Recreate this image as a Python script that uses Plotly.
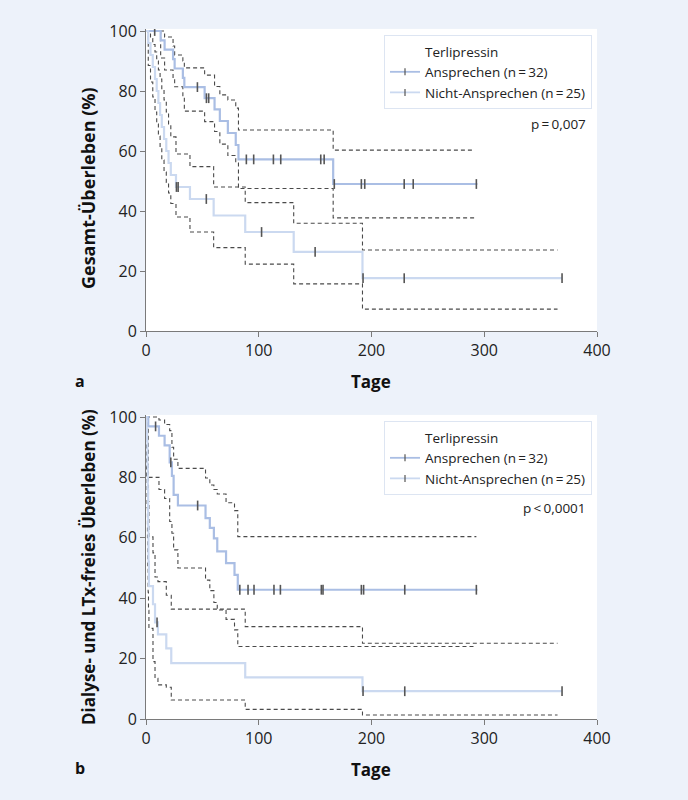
import plotly.graph_objects as go

# Panel a: Gesamt-Überleben
A_ANS_T = [0, 13, 16.5, 24, 25.4, 32.7, 34, 52, 60.8, 65.5, 72.6, 79.6, 82, 166]
A_ANS_S = [100, 96.9, 93.8, 90.6, 87.5, 84.4, 81.3, 77.6, 73.9, 70.0, 66.0, 62.0, 57.2, 49.0]
A_ANS_HI = [100, 100, 98, 95, 92, 90, 87.7, 85.3, 81.5, 78.7, 77, 74.3, 67, 60.3]
A_ANS_LO = [100, 91, 87, 84, 81.4, 78, 73.3, 69.8, 66.5, 62.3, 58.5, 56, 47.5, 37.7]
A_ANS_END = 294
A_ANS_CI_END = 291
A_ANS_CENS = [7.7, 45.6, 53.6, 55.6, 89, 95.5, 113, 119.5, 155, 158, 167, 191, 194, 229, 237, 293]

A_NICHT_T = [0, 2, 4, 6, 8, 9.5, 11, 12.5, 14, 16, 18, 20, 22, 26.6, 39, 60, 88, 131, 192]
A_NICHT_S = [100, 96, 92, 88, 84, 80, 76, 72, 68, 64, 60, 56, 52, 48, 44, 38.5, 33, 26.4, 17.6]
A_NICHT_HI = [100, 99.5, 97.5, 95.5, 93, 90, 87, 84, 80.5, 77, 73, 69, 64.7, 59, 54.8, 48, 42.8, 35.9, 27]
A_NICHT_LO = [100, 88.5, 83, 78, 73, 69, 65, 61, 57, 53, 49.5, 46, 42.5, 38, 33, 27.8, 22.3, 15.7, 7.3]
A_NICHT_END = 369
A_NICHT_CI_END = 365
A_NICHT_CENS = [27, 28.5, 53.5, 102.5, 150, 192.5, 229, 369]

# Panel b: Dialyse- und LTx-freies Überleben
B_ANS_T = [0, 2, 11.5, 16.5, 21, 23, 24.5, 28.3, 52.8, 56.6, 60.2, 63.2, 71, 78.5, 81.4]
B_ANS_S = [100, 96.9, 93.8, 90.6, 85.0, 80.5, 74.2, 70.7, 66.5, 63.3, 59.8, 55.5, 51.6, 47.7, 42.8]
B_ANS_HI = [100, 100, 99, 97.5, 95.5, 90, 86, 83, 79.8, 77.5, 76, 74.5, 71.6, 69, 60.4]
B_ANS_LO = [100, 80, 76, 73, 65.4, 61.5, 56, 50, 46, 42.5, 38.6, 36.1, 33, 29.5, 24]
B_ANS_END = 294
B_ANS_CI_END = 293
B_ANS_CENS = [8.5, 22, 45.8, 83.2, 90.5, 95.8, 113.5, 119.2, 155.5, 157, 191, 193, 229.5, 293]

B_NICHT_T = [0, 0.5, 1, 1.3, 1.6, 1.9, 2.2, 2.6, 6.2, 8, 10.6, 18, 22.4, 88, 192]
B_NICHT_S = [100, 96, 92, 84, 76, 64, 52, 44, 38, 32, 28, 23.4, 18.5, 13.8, 9.2]
B_NICHT_HI = [100, 100, 99, 96, 90.8, 82, 72, 60.3, 55, 47, 45.5, 41, 36.4, 30.6, 25.1]
B_NICHT_LO = [100, 80, 70, 60, 50, 42, 36, 30, 19, 13.5, 11.3, 10.5, 6.3, 3.2, 1.3]
B_NICHT_END = 369
B_NICHT_CI_END = 365
B_NICHT_CENS = [9.8, 192.5, 229.5, 369]

GROUPS = ["Ansprechen (n\u2009=\u200932)", "Nicht-Ansprechen (n\u2009=\u200925)"]
LEGEND_TITLE = "Terlipressin"
P_TEXT = ["p\u2009=\u20090,007", "p\u2009<\u20090,0001"]
Y_TITLES = ["Gesamt-Überleben (%)", "Dialyse- und LTx-freies Überleben (%)"]
X_TITLE = "Tage"
PANEL_LABELS = ["a", "b"]

COL_ANS = "#aabee4"
COL_NICHT = "#cbd9f0"
COL_CI = "#4a4a4a"
COL_TICK = "#555555"
BG = "#edf2fa"
FONT = "Open Sans"


def step_xy(t, s, end):
    return list(t) + [end], list(s) + [s[-1]]


def value_at(t, s, x):
    v = s[0]
    for ti, si in zip(t, s):
        if x >= ti:
            v = si
    return v


fig = go.Figure()

panels = [
    dict(xa="x", ya="y", leg="legend",
         groups=[(A_ANS_T, A_ANS_S, A_ANS_HI, A_ANS_LO, A_ANS_END, A_ANS_CI_END, A_ANS_CENS, COL_ANS),
                 (A_NICHT_T, A_NICHT_S, A_NICHT_HI, A_NICHT_LO, A_NICHT_END, A_NICHT_CI_END, A_NICHT_CENS, COL_NICHT)]),
    dict(xa="x2", ya="y2", leg="legend2",
         groups=[(B_ANS_T, B_ANS_S, B_ANS_HI, B_ANS_LO, B_ANS_END, B_ANS_CI_END, B_ANS_CENS, COL_ANS),
                 (B_NICHT_T, B_NICHT_S, B_NICHT_HI, B_NICHT_LO, B_NICHT_END, B_NICHT_CI_END, B_NICHT_CENS, COL_NICHT)]),
]

for p in panels:
    # Konfidenzintervalle (gestrichelt)
    for t, s, hi, lo, end, ci_end, cens, col in p["groups"]:
        for band in (hi, lo):
            x, y = step_xy(t, band, ci_end)
            fig.add_trace(go.Scatter(x=x, y=y, mode="lines", line_shape="hv",
                                     line=dict(color=COL_CI, width=1.1, dash="4px,3px"),
                                     xaxis=p["xa"], yaxis=p["ya"], showlegend=False, hoverinfo="skip"))
    # Kaplan-Meier-Kurven
    for t, s, hi, lo, end, ci_end, cens, col in p["groups"]:
        x, y = step_xy(t, s, end)
        fig.add_trace(go.Scatter(x=x, y=y, mode="lines", line_shape="hv",
                                 line=dict(color=col, width=2.2),
                                 xaxis=p["xa"], yaxis=p["ya"], showlegend=False))
    # Zensierungen
    for t, s, hi, lo, end, ci_end, cens, col in p["groups"]:
        fig.add_trace(go.Scatter(x=cens, y=[value_at(t, s, c) for c in cens], mode="markers",
                                 marker=dict(symbol="line-ns", size=7, line=dict(color=COL_TICK, width=1.6)),
                                 xaxis=p["xa"], yaxis=p["ya"], showlegend=False))
    # Legende
    fig.add_trace(go.Scatter(x=[None], y=[None], mode="lines", name=LEGEND_TITLE,
                             line=dict(color="rgba(0,0,0,0)", width=0),
                             xaxis=p["xa"], yaxis=p["ya"], legend=p["leg"]))
    for name, g in zip(GROUPS, p["groups"]):
        fig.add_trace(go.Scatter(x=[None], y=[None], mode="lines+markers", name=name,
                                 line=dict(color=g[7], width=1.8),
                                 marker=dict(symbol="line-ns", size=5, line=dict(color=COL_TICK, width=1.2)),
                                 xaxis=p["xa"], yaxis=p["ya"], legend=p["leg"]))

W, H = 688, 800
x_dom = [146 / W, 597 / W]
axis_common = dict(showline=True, linecolor="#7a7a7a", linewidth=1, ticks="outside", ticklen=5,
                   tickcolor="#7a7a7a", showgrid=False, zeroline=False, automargin=False,
                   tickfont=dict(family=FONT, size=16, color="#222222"))

legend_common = dict(bgcolor="white", bordercolor="#dde5f2", borderwidth=1,
                     font=dict(family=FONT, size=13.5, color="#222222"),
                     xanchor="right", yanchor="top", x=592 / W, tracegroupgap=0, itemwidth=30)

fig.update_layout(
    template="none",
    width=W, height=H,
    margin=dict(l=0, r=0, t=0, b=0, pad=0),
    paper_bgcolor=BG, plot_bgcolor="white",
    xaxis=dict(domain=x_dom, range=[0, 400], tickvals=[0, 100, 200, 300, 400], anchor="y", **axis_common),
    yaxis=dict(domain=[1 - 331 / H, 1 - 28.9 / H], range=[0, 100.7], tickvals=[0, 20, 40, 60, 80, 100],
               anchor="x", **axis_common),
    xaxis2=dict(domain=x_dom, range=[0, 400], tickvals=[0, 100, 200, 300, 400], anchor="y2", **axis_common),
    yaxis2=dict(domain=[1 - 719 / H, 1 - 414.9 / H], range=[0, 100.7], tickvals=[0, 20, 40, 60, 80, 100],
                anchor="x2", **axis_common),
    legend=dict(y=1 - 35 / H, **legend_common),
    legend2=dict(y=1 - 421 / H, **legend_common),
    showlegend=True,
)

ann = []
for i, (yc, ysize, xlab, plab, pt) in enumerate([(188, 18, 381, 381, 124), (567, 17, 769, 768, 508)]):
    ann.append(dict(text=f"<b>{Y_TITLES[i]}</b>", x=88 / W, y=1 - yc / H, xref="paper", yref="paper",
                    xanchor="center", yanchor="middle", textangle=-90, showarrow=False,
                    font=dict(family=FONT, size=ysize, color="#111111")))
    ann.append(dict(text=f"<b>{X_TITLE}</b>", x=371 / W, y=1 - xlab / H, xref="paper", yref="paper",
                    xanchor="center", yanchor="middle", showarrow=False,
                    font=dict(family=FONT, size=17, color="#111111")))
    ann.append(dict(text=f"<b>{PANEL_LABELS[i]}</b>", x=80 / W, y=1 - plab / H, xref="paper", yref="paper",
                    xanchor="center", yanchor="middle", showarrow=False,
                    font=dict(family=FONT, size=16, color="#111111")))
    ann.append(dict(text=P_TEXT[i], x=588 / W, y=1 - pt / H, xref="paper", yref="paper",
                    xanchor="right", yanchor="middle", showarrow=False,
                    font=dict(family=FONT, size=13.5, color="#222222")))
fig.update_layout(annotations=ann)

fig.write_html("out.html", config={"displayModeBar": False},
               post_script="document.body.style.margin='0';document.body.style.overflow='hidden';")
